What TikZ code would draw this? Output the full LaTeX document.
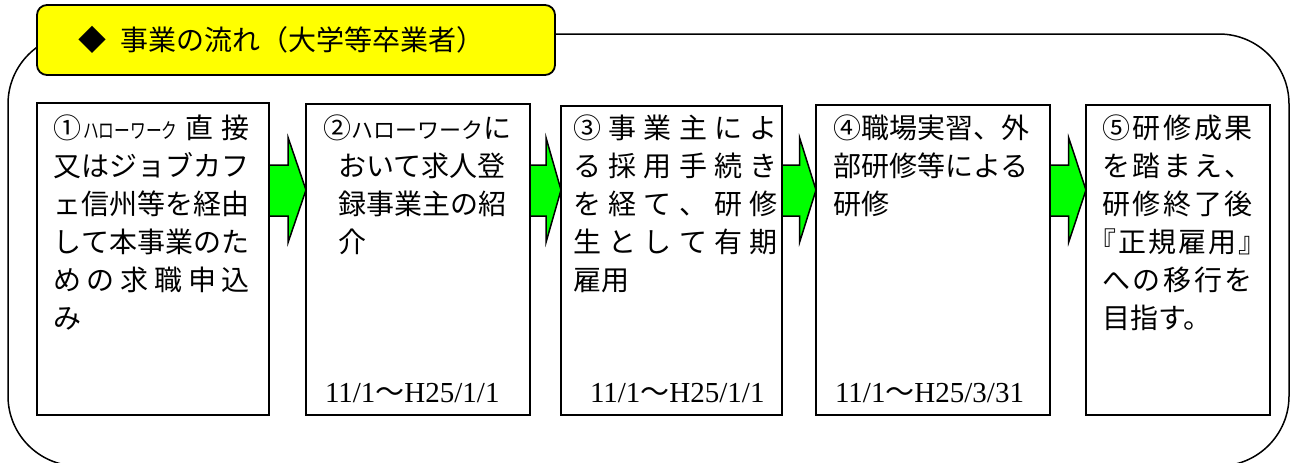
\documentclass[tikz,border=0pt]{standalone}
\usepackage{graphicx}
\usepackage{fontspec}
\setmainfont{Noto Sans CJK JP}
\newfontfamily\serifnum{Liberation Serif}
\usetikzlibrary{calc}
\definecolor{titleyellow}{RGB}{255,255,0}
\definecolor{arrowgreen}{RGB}{0,255,0}
\makeatletter
\newcommand\distw[2]{\makebox[#1pt][s]{\dist@first#2\relax}}
\def\dist@first#1{#1\dist@rest}
\def\dist@rest#1{\ifx#1\relax\else\hfil#1\expandafter\dist@rest\fi}
\makeatother
\newcommand\flowarrow[2]{%
  \draw[garr] let \p1=(#1.east), \p2=(#2.west), \p3=($(#1.east)!0.52!(#2.west)$) in
    (\x1,-165pt) -- (\x3,-165pt) -- (\x3,-138pt) -- (\x2,-190pt) --
    (\x3,-242pt) -- (\x3,-216pt) -- (\x1,-216pt) -- cycle;}
\begin{document}
\begin{tikzpicture}[x=1pt,y=-1pt,
  box/.style={draw=black, line width=1.8pt, rectangle, inner sep=0pt, outer sep=0pt, anchor=north west},
  txt/.style={anchor=base west, inner sep=0pt, outer sep=0pt, align=left, font=\fontsize{28}{38}\selectfont},
  datelbl/.style={anchor=base west, inner sep=0pt, outer sep=0pt, font=\fontsize{29}{29}\selectfont},
  garr/.style={draw=black, line width=1.5pt, fill=arrowgreen, line join=miter},
]
\useasboundingbox (0,0) rectangle (1290,463);
% outer frame
\draw[line width=1.5pt, rounded corners=70pt] (8,34) rectangle (1289,466);
% title
\node[draw=black, line width=1.8pt, fill=titleyellow, rounded corners=10pt,
      minimum width=518pt, minimum height=70pt, anchor=north west, inner sep=0pt, outer sep=0pt] (title) at (37,5) {};
\node[anchor=base west, inner sep=0pt, font=\fontsize{28}{28}\selectfont] (titletext) at (78,50.6)
  {◆\hspace{14pt}事業の流れ（大学等卒業者）};
% boxes
\node[box, minimum width=232pt, minimum height=312pt] (b1) at (37,103) {};
\node[box, minimum width=224pt, minimum height=311pt] (b2) at (306,104) {};
\node[box, minimum width=221pt, minimum height=309pt] (b3) at (561,106) {};
\node[box, minimum width=234pt, minimum height=310pt] (b4) at (816,105) {};
\node[box, minimum width=184pt, minimum height=310pt] (b5) at (1086,105) {};
% texts
\node[txt, text width=200pt] (t1) at (53,138.6) {%
  \makebox[197pt][s]{①\hspace{2pt}\scalebox{0.75}[1]{\fontsize{21}{21}\selectfont ハローワーク}\hfil 直\hfil 接}\\
  \distw{197}{又はジョブカフ}\\
  \distw{197}{ェ信州等を経由}\\
  \distw{197}{して本事業のた}\\
  \distw{197}{めの求職申込}\\
  み};
\node[txt, text width=200pt] (t2) at (323,138.6) {%
  ②{\fontsize{22}{22}\selectfont ハローワーク}に\\
  \hspace*{15pt}おいて求人登\\
  \hspace*{15pt}録事業主の紹\\
  \hspace*{15pt}介};
\node[txt, text width=208pt] (t3) at (573,138.6) {%
  \distw{205}{③事業主によ}\\
  \distw{205}{る採用手続き}\\
  \distw{205}{を経て、研修}\\
  \distw{205}{生として有期}\\
  雇用};
\node[txt, text width=200pt] (t4) at (833,138.6) {%
  ④職場実習、外\\
  部研修等による\\
  研修};
\node[txt, text width=155pt] (t5) at (1102,138.6) {%
  \distw{151}{⑤研修成果}\\
  \distw{151}{を踏まえ、}\\
  \distw{151}{研修終了後}\\
  \makebox[151pt][s]{\makebox[14pt][r]{『}\hfil 正\hfil 規\hfil 雇\hfil 用\hfil\makebox[14pt][l]{』}}\\
  \distw{151}{への移行を}\\
  目指す。};
% dates
\node[datelbl] (d2) at (325,402) {{\serifnum 11/1}～{\serifnum H25/1/1}};
\node[datelbl] (d3) at (590,402) {{\serifnum 11/1}～{\serifnum H25/1/1}};
\node[datelbl] (d4) at (835,402) {{\serifnum 11/1}～{\serifnum H25/3/31}};
% arrows
\flowarrow{b1}{b2}
\flowarrow{b2}{b3}
\flowarrow{b3}{b4}
\flowarrow{b4}{b5}
\end{tikzpicture}
\end{document}
